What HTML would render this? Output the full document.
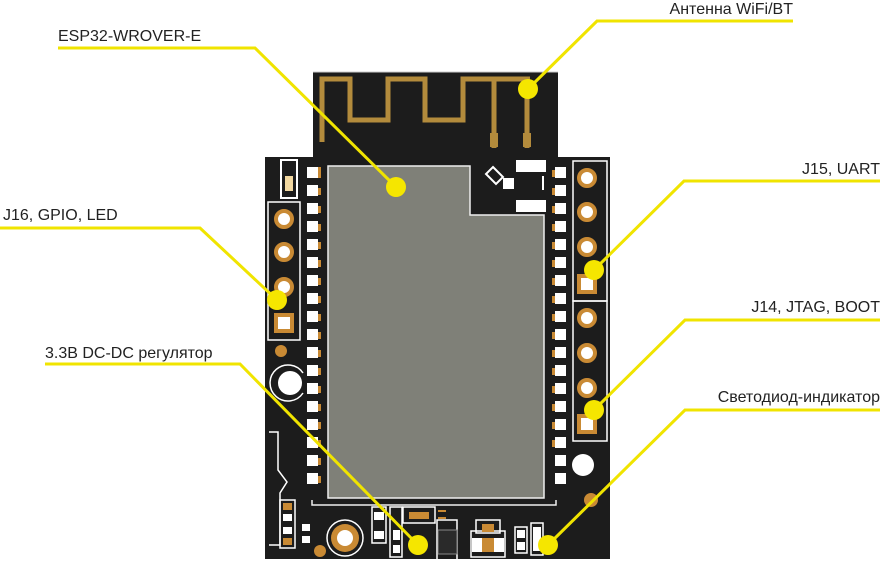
<!DOCTYPE html>
<html><head><meta charset="utf-8"><style>
html,body{margin:0;padding:0;background:#fff;}
svg{display:block;}
text{font-family:"Liberation Sans","Noto Sans CJK SC",sans-serif;font-size:16px;fill:#222;}
</style></head><body>
<svg width="883" height="576" viewBox="0 0 883 576" xmlns="http://www.w3.org/2000/svg">
<rect width="883" height="576" fill="#fff"/>
<!-- board -->
<rect x="313" y="72" width="245" height="95" fill="#1c1c1c"/>
<rect x="265" y="157" width="345" height="402" fill="#1c1c1c"/>
<line x1="313" y1="72" x2="558" y2="72" stroke="#ccc" stroke-width="1"/>
<!-- antenna -->
<g fill="none" stroke="#b38b3c" stroke-width="5">
<path d="M322 142 V79 H350 V120 H388 V79 H425 V120 H463 V79 H530"/>
<path d="M494 79 V148 M527 79 V148"/>
</g>
<rect x="490" y="133" width="8" height="14" fill="#b38b3c"/>
<rect x="523" y="133" width="8" height="14" fill="#b38b3c"/>
<!-- shield -->
<path d="M328 166 H470 V215 H544 V498 H328 Z" fill="#7f8078" stroke="#eee" stroke-width="1.5"/>
<path d="M312 500 V505 H556 V500" fill="none" stroke="#eee" stroke-width="1.5"/>
<!-- chip marks near antenna -->
<g fill="none" stroke="#fff" stroke-width="2">
<path d="M493 165 L503 175 L496 182 L486 172 Z" transform="translate(0,2)"/>
</g>
<rect x="516" y="160" width="30" height="12" fill="#fff"/>
<rect x="503" y="178" width="11" height="11" fill="#fff"/>
<rect x="516" y="200" width="30" height="12" fill="#fff"/>
<rect x="542" y="176" width="2" height="14" fill="#fff"/>
<!-- left small component -->
<rect x="281" y="160" width="16" height="38" fill="none" stroke="#fff" stroke-width="2"/>
<rect x="285" y="176" width="8" height="15" fill="#f2d8a0"/>
<!-- pad columns -->
<g id="padsL">
<rect x="307" y="167" width="11" height="11" fill="#fff"/><rect x="318" y="167" width="3" height="11" fill="#c98a34"/>
</g>
<g fill="#fff">
<rect x="307" y="167" width="11" height="11"/><rect x="307" y="185" width="11" height="11"/><rect x="307" y="203" width="11" height="11"/><rect x="307" y="221" width="11" height="11"/><rect x="307" y="239" width="11" height="11"/><rect x="307" y="257" width="11" height="11"/><rect x="307" y="275" width="11" height="11"/><rect x="307" y="293" width="11" height="11"/><rect x="307" y="311" width="11" height="11"/><rect x="307" y="329" width="11" height="11"/><rect x="307" y="347" width="11" height="11"/><rect x="307" y="365" width="11" height="11"/><rect x="307" y="383" width="11" height="11"/><rect x="307" y="401" width="11" height="11"/><rect x="307" y="419" width="11" height="11"/><rect x="307" y="437" width="11" height="11"/><rect x="307" y="455" width="11" height="11"/><rect x="307" y="473" width="11" height="11"/>
<rect x="555" y="167" width="11" height="11"/><rect x="555" y="185" width="11" height="11"/><rect x="555" y="203" width="11" height="11"/><rect x="555" y="221" width="11" height="11"/><rect x="555" y="239" width="11" height="11"/><rect x="555" y="257" width="11" height="11"/><rect x="555" y="275" width="11" height="11"/><rect x="555" y="293" width="11" height="11"/><rect x="555" y="311" width="11" height="11"/><rect x="555" y="329" width="11" height="11"/><rect x="555" y="347" width="11" height="11"/><rect x="555" y="365" width="11" height="11"/><rect x="555" y="383" width="11" height="11"/><rect x="555" y="401" width="11" height="11"/><rect x="555" y="419" width="11" height="11"/><rect x="555" y="437" width="11" height="11"/><rect x="555" y="455" width="11" height="11"/><rect x="555" y="473" width="11" height="11"/>
</g>
<g fill="#c98a34">
<rect x="318" y="170" width="3" height="7"/><rect x="318" y="188" width="3" height="7"/><rect x="318" y="206" width="3" height="7"/><rect x="318" y="224" width="3" height="7"/><rect x="318" y="242" width="3" height="7"/><rect x="318" y="260" width="3" height="7"/><rect x="318" y="278" width="3" height="7"/><rect x="318" y="296" width="3" height="7"/><rect x="318" y="314" width="3" height="7"/><rect x="318" y="332" width="3" height="7"/><rect x="318" y="350" width="3" height="7"/><rect x="318" y="368" width="3" height="7"/><rect x="318" y="386" width="3" height="7"/><rect x="318" y="404" width="3" height="7"/><rect x="318" y="422" width="3" height="7"/><rect x="318" y="440" width="3" height="7"/><rect x="318" y="458" width="3" height="7"/><rect x="318" y="476" width="3" height="7"/>
<rect x="552" y="170" width="3" height="7"/><rect x="552" y="188" width="3" height="7"/><rect x="552" y="206" width="3" height="7"/><rect x="552" y="224" width="3" height="7"/><rect x="552" y="242" width="3" height="7"/><rect x="552" y="260" width="3" height="7"/><rect x="552" y="278" width="3" height="7"/><rect x="552" y="296" width="3" height="7"/><rect x="552" y="314" width="3" height="7"/><rect x="552" y="332" width="3" height="7"/><rect x="552" y="350" width="3" height="7"/><rect x="552" y="368" width="3" height="7"/><rect x="552" y="386" width="3" height="7"/><rect x="552" y="404" width="3" height="7"/><rect x="552" y="422" width="3" height="7"/><rect x="552" y="440" width="3" height="7"/>
</g>
<!-- left header J16 -->
<rect x="268" y="202" width="32" height="138" fill="none" stroke="#fff" stroke-width="1.5"/>
<g fill="#fff" stroke="#c98a34" stroke-width="4">
<circle cx="284" cy="219" r="8"/><circle cx="284" cy="252" r="8"/><circle cx="284" cy="287" r="8"/>
<rect x="276" y="315" width="16" height="16"/>
</g>
<!-- right headers -->
<rect x="573" y="161" width="34" height="140" fill="none" stroke="#fff" stroke-width="1.5"/>
<rect x="573" y="301" width="34" height="140" fill="none" stroke="#fff" stroke-width="1.5"/>
<g fill="#fff" stroke="#c98a34" stroke-width="4">
<circle cx="587" cy="178" r="8"/><circle cx="587" cy="212" r="8"/><circle cx="587" cy="247" r="8"/>
<rect x="579" y="276" width="16" height="16"/>
<circle cx="587" cy="318" r="8"/><circle cx="587" cy="353" r="8"/><circle cx="587" cy="388" r="8"/>
<rect x="579" y="416" width="16" height="16"/>
</g>
<!-- misc -->
<circle cx="281" cy="351" r="6" fill="#c98a34"/>
<circle cx="290" cy="383" r="12" fill="#fff"/>
<path d="M303 373 A18 18 0 1 0 303 393" fill="none" stroke="#fff" stroke-width="1.5"/>
<circle cx="583" cy="465" r="11" fill="#fff"/>
<circle cx="591" cy="500" r="7" fill="#c98a34"/>
<circle cx="320" cy="551" r="6" fill="#c98a34"/>
<path d="M269 432 H278 V470 L287 482 L280 493 V545 H269" fill="none" stroke="#fff" stroke-width="1.5"/>
<rect x="280" y="500" width="15" height="48" fill="none" stroke="#fff" stroke-width="1.5"/>
<g fill="#fff"><rect x="283" y="514" width="9" height="7"/><rect x="283" y="527" width="9" height="7"/><rect x="302" y="524" width="8" height="7"/><rect x="302" y="536" width="8" height="7"/></g>
<g fill="#c98a34"><rect x="283" y="503" width="9" height="7"/><rect x="283" y="538" width="9" height="7"/></g>
<circle cx="345" cy="538" r="18" fill="none" stroke="#fff" stroke-width="1.5"/>
<circle cx="345" cy="538" r="14" fill="#c98a34"/>
<circle cx="345" cy="538" r="8" fill="#fff"/>
<!-- bottom parts -->
<g fill="none" stroke="#fff" stroke-width="1.5">
<rect x="372" y="507" width="14" height="36"/><rect x="390" y="507" width="12" height="50"/>
<rect x="403" y="507" width="32" height="16"/><rect x="437" y="520" width="20" height="44"/>
<rect x="471" y="531" width="34" height="26"/><rect x="476" y="520" width="24" height="13"/>
<rect x="515" y="527" width="12" height="26"/><rect x="531" y="523" width="12" height="32"/>
</g>
<g fill="#fff"><rect x="374" y="512" width="10" height="8"/><rect x="374" y="531" width="10" height="8"/><rect x="393" y="530" width="7" height="10"/><rect x="393" y="545" width="7" height="8"/><rect x="472" y="538" width="10" height="14"/><rect x="494" y="538" width="10" height="14"/><rect x="517" y="530" width="8" height="8"/><rect x="517" y="542" width="8" height="8"/><rect x="533" y="527" width="8" height="24"/></g>
<g fill="#c98a34"><rect x="409" y="512" width="20" height="7"/><rect x="482" y="538" width="12" height="14"/><rect x="482" y="524" width="12" height="8"/><rect x="438" y="510" width="8" height="2"/><rect x="438" y="517" width="8" height="2"/></g>
<rect x="438" y="530" width="19" height="24" fill="#2a2a2a" stroke="#888" stroke-width="1"/>
<!-- callout lines -->
<g fill="none" stroke="#f0e400" stroke-width="3">
<path d="M58 48 H255 L396 187"/>
<path d="M0 228 H200 L277 300"/>
<path d="M793 21 H597 L528 89"/>
<path d="M880 181 H684 L594 270"/>
<path d="M880 320 H685 L594 410"/>
<path d="M880 410 H685 L548 545"/>
<path d="M45 364 H240 L418 545"/>
</g>
<g fill="#f5e600">
<circle cx="396" cy="187" r="10"/><circle cx="277" cy="300" r="10"/><circle cx="528" cy="89" r="10"/>
<circle cx="594" cy="270" r="10"/><circle cx="594" cy="410" r="10"/><circle cx="548" cy="545" r="10"/><circle cx="418" cy="545" r="10"/>
</g>
<!-- labels -->
<text x="58" y="41">ESP32-WROVER-E</text>
<text x="793" y="14" text-anchor="end">Антенна WiFi/BT</text>
<text x="3" y="220">J16, GPIO, LED</text>
<text x="880" y="174" text-anchor="end">J15, UART</text>
<text x="880" y="312" text-anchor="end">J14, JTAG, BOOT</text>
<text x="45" y="358">3.3B DC-DC регулятор</text>
<text x="880" y="402" text-anchor="end">Светодиод-индикатор</text>
</svg>
</body></html>
